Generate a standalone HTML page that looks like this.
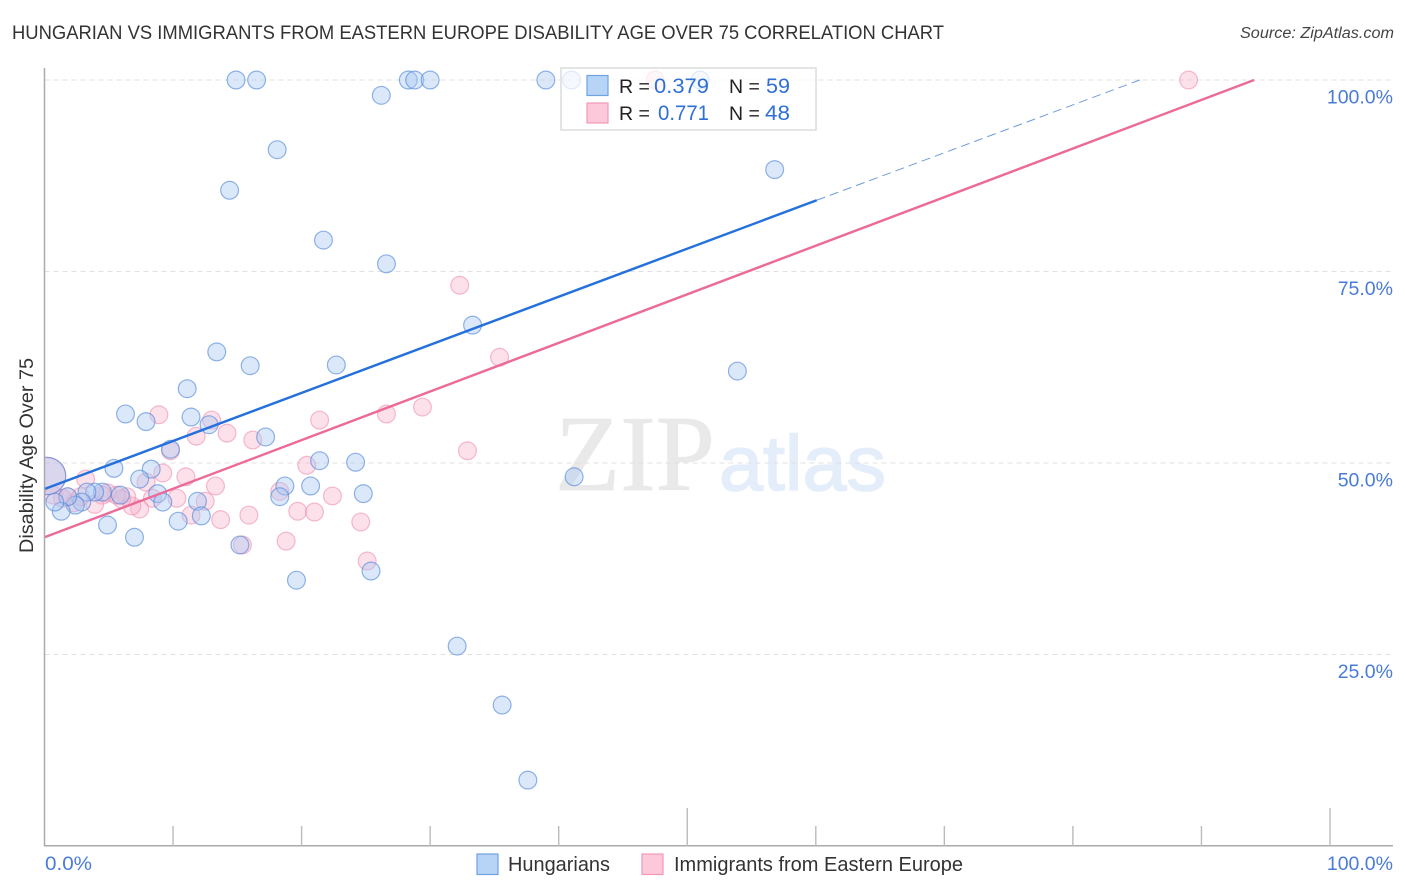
<!DOCTYPE html>
<html lang="en">
<head>
<meta charset="utf-8">
<title>Hungarian vs Immigrants from Eastern Europe Disability Age Over 75 Correlation Chart</title>
<style>
html,body{margin:0;padding:0;background:#fff;width:1406px;height:892px;overflow:hidden}
svg{display:block;font-family:"Liberation Sans",sans-serif}
</style>
</head>
<body>
<svg id="chart" xmlns="http://www.w3.org/2000/svg" width="1406" height="892" viewBox="0 0 1406 892">
  <defs>
    <clipPath id="plot-clip"><rect x="44.5" y="60" width="1349" height="786"/></clipPath>
  </defs>
  <text x="12" y="39" font-size="19.5" fill="#333" textLength="932" lengthAdjust="spacingAndGlyphs">HUNGARIAN VS IMMIGRANTS FROM EASTERN EUROPE DISABILITY AGE OVER 75 CORRELATION CHART</text>
  <text x="1394" y="38" font-size="15.5" font-style="italic" fill="#444" text-anchor="end" textLength="154" lengthAdjust="spacingAndGlyphs">Source: ZipAtlas.com</text>
  <g>
    <text x="555" y="490" font-family="'Liberation Serif',serif" font-size="108" fill="#e9e9e9" stroke="#e9e9e9" stroke-width="0.8" textLength="160" lengthAdjust="spacingAndGlyphs">ZIP</text>
    <text x="719" y="490" font-size="78" fill="#e4edfa" stroke="#e4edfa" stroke-width="1.5" textLength="167" lengthAdjust="spacingAndGlyphs">atlas</text>
  </g>
  <g id="grid"></g>
  <g clip-path="url(#plot-clip)">
    <g id="pink-points"></g>
    <g id="blue-points"></g>
  </g>
  <g id="lines"></g>
  <g id="axes"></g>
  <text transform="translate(33,553) rotate(-90)" font-size="19.5" fill="#333" textLength="195" lengthAdjust="spacingAndGlyphs">Disability Age Over 75</text>
  <g>
    <rect x="561" y="68" width="255" height="62" fill="#fff" fill-opacity="0.72" stroke="#dcdcdc" stroke-width="1.5"/>
    <rect x="587" y="75.5" width="21" height="20" fill="#b7d3f6" stroke="#6fa3e0" stroke-width="1.2"/>
    <rect x="587" y="103" width="21" height="20" fill="#fcc8da" stroke="#f09ab8" stroke-width="1.2"/>
    <text x="619" y="93" font-size="19.5" fill="#222">R =</text>
    <text x="709" y="93" font-size="21" fill="#2f6fd6" text-anchor="end" textLength="55" lengthAdjust="spacingAndGlyphs">0.379</text>
    <text x="729" y="93" font-size="19.5" fill="#222">N =</text>
    <text x="790" y="93" font-size="21" fill="#2f6fd6" text-anchor="end" textLength="24" lengthAdjust="spacingAndGlyphs">59</text>
    <text x="619" y="120" font-size="19.5" fill="#222">R =</text>
    <text x="709" y="120" font-size="21" fill="#2f6fd6" text-anchor="end" textLength="51" lengthAdjust="spacingAndGlyphs">0.771</text>
    <text x="729" y="120" font-size="19.5" fill="#222">N =</text>
    <text x="790" y="120" font-size="21" fill="#2f6fd6" text-anchor="end" textLength="25" lengthAdjust="spacingAndGlyphs">48</text>
  </g>
  <g>
    <rect x="477" y="854" width="21" height="20.5" fill="#b7d3f6" stroke="#6fa3e0" stroke-width="1.2"/>
    <text x="508" y="871" font-size="20" fill="#333" textLength="102" lengthAdjust="spacingAndGlyphs">Hungarians</text>
    <rect x="642" y="854" width="21" height="20.5" fill="#fcc8da" stroke="#f09ab8" stroke-width="1.2"/>
    <text x="674" y="871" font-size="20" fill="#333" textLength="289" lengthAdjust="spacingAndGlyphs">Immigrants from Eastern Europe</text>
  </g>
</svg>
<script>
const blueX = [14.9,16.5,28.3,28.8,30.0,39.0,41.0,51.0,26.2,18.1,56.8,14.4,21.7,26.6,33.3,13.4,16.0,22.7,53.9,11.1,6.3,11.4,7.9,12.8,9.8,17.2,5.4,21.4,24.2,8.3,7.4,41.2,18.7,20.7,18.3,24.8,8.8,9.2,11.9,5.9,4.5,3.9,3.3,2.9,2.4,1.8,1.3,0.8,0.2,4.9,12.2,10.4,7.0,15.2,19.6,25.4,32.1,35.6,37.6];
const blueY = [100,100,100,100,100,100,100,100,98.0,90.9,88.3,85.6,79.1,76.0,68.0,64.5,62.7,62.8,62.0,59.7,56.4,56.0,55.4,55.0,51.8,53.4,49.3,50.3,50.1,49.2,47.9,48.2,47.0,47.0,45.6,46.0,46.0,44.9,45.0,45.8,46.2,46.2,46.2,44.9,44.5,45.6,43.7,44.9,48.3,41.9,43.1,42.4,40.3,39.3,34.7,35.9,26.1,18.4,8.6];
const blueWeight = [1,1,1,1,1,1,1,1,1,1,1,1,1,1,1,1,1,1,1,1,1,1,1,1,1,1,1,1,1,1,1,1,1,1,1,1,1,1,1,1,1,1,1,1,1,1,1,1,4.4,1,1,1,1,1,1,1,1,1,1];
const pinkX = [89.0,47.5,32.3,35.4,29.4,26.6,21.4,8.9,13.0,11.8,14.2,16.2,32.9,9.8,20.4,9.2,3.2,7.9,11.0,13.3,18.3,22.4,10.3,12.5,8.4,19.7,21.0,24.6,15.9,13.7,11.4,18.8,15.4,25.1,7.4,6.8,6.4,6.0,5.6,4.9,4.5,3.9,2.3,1.8,1.4,0.7,0.2,2.8];
const pinkY = [100,100,73.2,63.8,57.3,56.4,55.6,56.3,55.6,53.5,53.9,53.0,51.6,51.6,49.7,48.7,47.9,47.5,48.2,47.0,46.3,45.7,45.4,45.0,45.4,43.7,43.6,42.3,43.2,42.6,43.2,39.8,39.3,37.2,44.0,44.4,45.6,45.3,45.8,46.1,45.8,44.6,44.8,45.6,45.4,45.8,48.3,45.6];
const pinkWeight = [1,1,1,1,1,1,1,1,1,1,1,1,1,1,1,1,1,1,1,1,1,1,1,1,1,1,1,1,1,1,1,1,1,1,1,1,1,1,1,1,1,1,1,1,1,1,4.4,1];
const blueSolidLineX = [0,60.07];
const blueSolidLineY = [46.6,84.3];
const blueDashLineX = [60.07,85.2];
const blueDashLineY = [84.3,100];
const pinkLineX = [0,94.1];
const pinkLineY = [40.3,100];
const xTickValues = [0,10,20,30,40,50,60,70,80,90,100];
const majorXTicks = [50,100];
const yGridValues = [25,50,75,100];
const yTickLabels = ["25.0%","50.0%","75.0%","100.0%"];
const xEndLabels = ["0.0%","100.0%"];

const NS = 'http://www.w3.org/2000/svg';
const sx = v => 44.5 + v * 12.855;
const sy = v => 846 - v * 7.66;
const radius = w => 8.9 * Math.sqrt(w);
function make(tag, attrs, parent) {
  const el = document.createElementNS(NS, tag);
  for (const k in attrs) el.setAttribute(k, attrs[k]);
  parent.appendChild(el);
  return el;
}
const gridG = document.getElementById('grid');
yGridValues.forEach(v => {
  const l = make('line', {x1: 44.5, x2: 1393, y1: sy(v), y2: sy(v), stroke: '#e0e0e0', 'stroke-width': 1, 'stroke-dasharray': '5 4'}, gridG);
  
  
});
const pinkG = document.getElementById('pink-points');
pinkX.forEach((v, i) => {
  const c = make('circle', {cx: sx(v), cy: sy(pinkY[i]), r: radius(pinkWeight[i]), fill: '#f9b6cc', 'fill-opacity': 0.42, stroke: '#ee8fb0', 'stroke-opacity': 0.6, 'stroke-width': 1.2}, pinkG);
  
  
});
const blueG = document.getElementById('blue-points');
blueX.forEach((v, i) => {
  const c = make('circle', {cx: sx(v), cy: sy(blueY[i]), r: radius(blueWeight[i]), fill: '#a9c8f2', 'fill-opacity': 0.42, stroke: '#4f86d8', 'stroke-opacity': 0.62, 'stroke-width': 1.2}, blueG);
  
  
});
const linesG = document.getElementById('lines');
const dashLine = make('line', {x1: sx(blueDashLineX[0]), y1: sy(blueDashLineY[0]), x2: sx(blueDashLineX[1]), y2: sy(blueDashLineY[1]), stroke: '#6f9bdc', 'stroke-width': 1, 'stroke-dasharray': '9 5'}, linesG);


const blueLine = make('line', {x1: sx(blueSolidLineX[0]), y1: sy(blueSolidLineY[0]), x2: sx(blueSolidLineX[1]), y2: sy(blueSolidLineY[1]), stroke: '#2470dc', 'stroke-width': 2.4}, linesG);


const pinkLine = make('line', {x1: sx(pinkLineX[0]), y1: sy(pinkLineY[0]), x2: sx(pinkLineX[1]), y2: sy(pinkLineY[1]), stroke: '#ec6a98', 'stroke-width': 2.4}, linesG);


const axesG = document.getElementById('axes');
const yAxis = make('line', {x1: 44.5, x2: 44.5, y1: 68, y2: 846, stroke: '#aaa', 'stroke-width': 1.5}, axesG);


const xAxis = make('line', {x1: 44, x2: 1393, y1: 845.7, y2: 845.7, stroke: '#aaa', 'stroke-width': 1.5}, axesG);


xTickValues.forEach(v => {
  if (v === 0) return;
  const top = majorXTicks.includes(v) ? 808 : 826;
  const t = make('line', {x1: sx(v), x2: sx(v), y1: top, y2: 846, stroke: '#bbb', 'stroke-width': 1.4}, axesG);
  
  
});
yGridValues.forEach((v, i) => {
  const t = make('text', {x: 1393, y: sy(v) + 23.5, 'font-size': 19.5, fill: '#4a7bd8', 'text-anchor': 'end'}, axesG);
  
  
  t.textContent = yTickLabels[i];
});
const x0 = make('text', {x: 45, y: 870, 'font-size': 19.5, fill: '#4a7bd8', textLength: 47, lengthAdjust: 'spacingAndGlyphs'}, axesG);


x0.textContent = xEndLabels[0];
const x1 = make('text', {x: 1393, y: 870, 'font-size': 19.5, fill: '#4a7bd8', 'text-anchor': 'end'}, axesG);


x1.textContent = xEndLabels[1];
</script>
</body>
</html>
